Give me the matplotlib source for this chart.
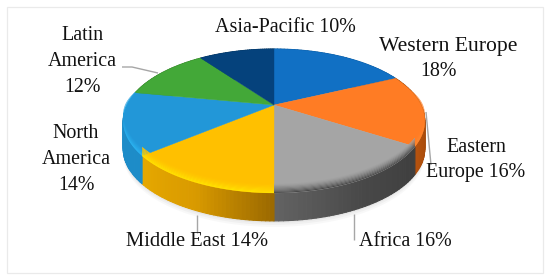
import numpy as np
import matplotlib
matplotlib.use("Agg")
import matplotlib.pyplot as plt
from matplotlib.colors import to_rgb
from matplotlib.patches import Rectangle

regions = ["Western Europe", "Eastern Europe", "Africa", "Middle East",
           "North America", "Latin America", "Asia-Pacific"]
shares = [18, 16, 16, 14, 14, 12, 10]

top_colors = ["#1170C4", "#FF7C24", "#A5A5A5", "#FFC000", "#2297D8", "#43A838", "#05427C"]
rim_colors = ["#1170C4", "#FF8A30", "#4A4A4A", "#FFE400", "#2DB8F5", "#43A838", "#05427C"]
# side wall colour at the clockwise start, middle and end of each slice
side_stops = [["#0C5A9E"] * 3,
              ["#8A3C00", "#9E4608", "#B5520E"],
              ["#3E3E3E", "#484848", "#626262"],
              ["#9C6A00", "#D99A00", "#E6A800"],
              ["#1D8CC8"] * 3,
              ["#338028"] * 3,
              ["#03345F"] * 3]

cx, cy = 274, 105     # apex of the pie in pixels
R, S, k = 147, 68.4, 0.222
depth = 28


def project(t, r=1.0):
    # t is the clockwise angle from 12 o'clock, tilted with some perspective
    u, v = r * np.sin(t), r * np.cos(t)
    w = 1 + k * v
    return cx + R * u / w, cy - S * v / w


def mix(a, b, f):
    a, b = np.array(to_rgb(a)), np.array(to_rgb(b))
    return tuple(a + (b - a) * f)


fig = plt.figure(figsize=(5.5, 2.8), dpi=100)
ax = fig.add_axes([0, 0, 1, 1])
ax.set_xlim(0, 550)
ax.set_ylim(280, 0)
ax.axis("off")

# frame
ax.add_patch(Rectangle((7, 7), 536, 266, fc="white", ec="#EAEAEA", lw=0.9))

# soft shadow under the pie
tt = np.linspace(0, 2 * np.pi, 200)
sx, sy = project(tt)
for grow, a in [(6, 0.05), (4, 0.06), (2, 0.08)]:
    ax.fill(sx, sy + depth + grow, color="#808080", alpha=a, lw=0)

edges = np.cumsum([0] + shares) / sum(shares) * 2 * np.pi

# side wall
for i in range(len(shares)):
    ts = np.linspace(edges[i], edges[i + 1], 41)
    for j in range(40):
        x0, y0 = project(ts[j])
        x1, y1 = project(ts[j + 1])
        f = j / 39
        if f < 0.5:
            c = mix(side_stops[i][0], side_stops[i][1], f * 2)
        else:
            c = mix(side_stops[i][1], side_stops[i][2], f * 2 - 1)
        ax.fill([x0, x1, x1, x0], [y0, y1, y1 + depth, y0 + depth], color=c, lw=0.8, joinstyle="round")

# top face
for i in range(len(shares)):
    ts = np.linspace(edges[i], edges[i + 1], 60)
    x, y = project(ts)
    ax.fill(np.r_[cx, x], np.r_[cy, y], color=top_colors[i], lw=0.3)

# bevel along the front of the rim
layers = 8
for i in range(len(shares)):
    ts = np.linspace(edges[i], edges[i + 1], 40)
    x, y = project(ts)
    h = 9 * np.clip((0.25 - np.cos(ts)) / 0.6, 0, 1)
    for n in range(layers):
        f0, f1 = n / layers, (n + 1) / layers
        c = mix(top_colors[i], rim_colors[i], f1 ** 1.5)
        y_a = y - h * (1 - f0)
        y_b = y - h * (1 - f1)
        ax.fill(np.r_[x, x[::-1]], np.r_[y_a, y_b[::-1]], color=c, lw=0)

# leader lines
line_kw = dict(color="#A6A6A6", lw=1.0, solid_capstyle="butt")
ax.plot([122, 132, 158], [67, 67, 73], **line_kw)
ax.plot([426, 431], [112, 165], **line_kw)
ax.plot([354, 354], [214, 240], **line_kw)
ax.plot([197, 197], [215, 233], **line_kw)

# labels
text_kw = dict(family="Liberation Serif", color="#111111", ha="center", va="center")
ax.text(285, 28, f"{regions[6]} {shares[6]}%", fontsize=14.4, **text_kw)
ax.text(448, 47, f"{regions[0]}", fontsize=15.6, **text_kw)
ax.text(438, 72, f"{shares[0]}%", fontsize=14.4, **text_kw)
ax.text(82, 35, "Latin", fontsize=14.4, **text_kw)
ax.text(82, 61, "America", fontsize=14.4, **text_kw)
ax.text(82, 88, f"{shares[5]}%", fontsize=14.4, **text_kw)
ax.text(76, 134, "North", fontsize=14.4, **text_kw)
ax.text(76, 160, "America", fontsize=14.4, **text_kw)
ax.text(76, 186, f"{shares[4]}%", fontsize=14.4, **text_kw)
ax.text(476, 147, "Eastern", fontsize=14.4, **text_kw)
ax.text(476, 173, f"Europe {shares[1]}%", fontsize=14.4, **text_kw)
ax.text(405, 241, f"{regions[2]} {shares[2]}%", fontsize=14.4, **text_kw)
ax.text(197, 241, f"{regions[3]} {shares[3]}%", fontsize=14.8, **text_kw)

fig.savefig("out.png", dpi=100)
